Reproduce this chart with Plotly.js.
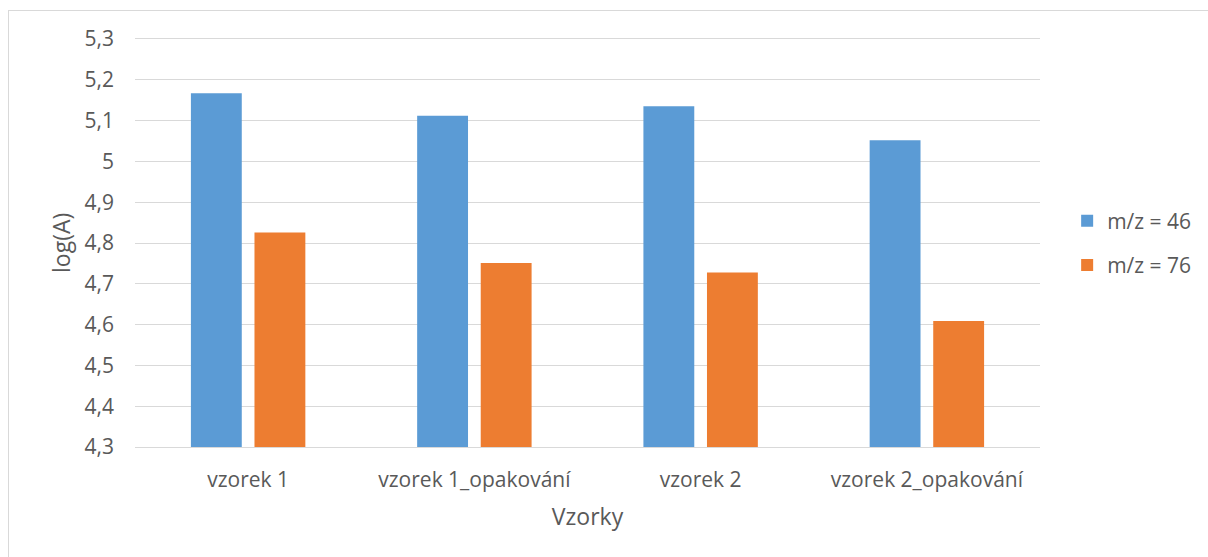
<!DOCTYPE html>
<html>
<head>
<meta charset="utf-8">
<script src="https://cdn.plot.ly/plotly-3.0.1.min.js"></script>
<style>
  html, body { margin: 0; padding: 0; background: #ffffff; }
  #wrap { position: relative; width: 1208px; height: 557px; overflow: hidden; }
  #chart { position: absolute; left: 0; top: 0; width: 1208px; height: 557px; }
  #frame { position: absolute; left: 8px; top: 10px; width: 1300px; height: 700px;
           border-left: 1px solid #d9d9d9; border-top: 1px solid #d9d9d9; pointer-events: none; }
</style>
</head>
<body>
<div id="wrap">
  <div id="chart"></div>
  <div id="frame"></div>
</div>
<script>
// Samples and measured log(A) values for the two ions
const samples = ["vzorek 1", "vzorek 1_opakování", "vzorek 2", "vzorek 2_opakování"];
const mz46 = [5.167, 5.112, 5.135, 5.052];
const mz76 = [4.826, 4.751, 4.728, 4.609];
const seriesNames = ["m/z = 46", "m/z = 76"];
const yTicks = [4.3, 4.4, 4.5, 4.6, 4.7, 4.8, 4.9, 5.0, 5.1, 5.2, 5.3];
const yTickText = ["4,3", "4,4", "4,5", "4,6", "4,7", "4,8", "4,9", "5", "5,1", "5,2", "5,3"];
const xTitle = "Vzorky";
const yTitle = "log(A)";

const FONT = "Open Sans, Noto Sans, sans-serif";
const GREY = "#595959";
const GRID = "#d9d9d9";

const traces = [
  { type: "bar", name: seriesNames[0], x: samples, y: mz46,
    marker: { color: "#5B9BD5" }, legendgroup: "a", hoverinfo: "skip" },
  { type: "bar", name: seriesNames[1], x: samples, y: mz76,
    marker: { color: "#ED7D31" }, legendgroup: "b", hoverinfo: "skip" }
];

const layout = {
  width: 1208, height: 557,
  margin: { l: 135, r: 162, t: 39, b: 110, pad: 0 },
  paper_bgcolor: "#ffffff", plot_bgcolor: "#ffffff",
  font: { family: FONT, size: 21, color: GREY },
  barmode: "group", bargap: 0.438, bargroupgap: 0.2,
  showlegend: true,
  legend: { x: 1.03, xanchor: "left", y: 0.5, yanchor: "middle",
            font: { family: FONT, size: 21, color: GREY },
            tracegroupgap: 14, bgcolor: "rgba(0,0,0,0)" },
  xaxis: {
    type: "category", showgrid: false, zeroline: false,
    showline: true, mirror: true, linecolor: GRID, linewidth: 1,
    ticks: "", ticklabelstandoff: 14,
    tickfont: { family: FONT, size: 21, color: GREY },
    title: { text: xTitle, font: { family: FONT, size: 23, color: GREY }, standoff: 16 }
  },
  yaxis: {
    range: [4.3, 5.3], tickvals: yTicks, ticktext: yTickText,
    showgrid: true, gridcolor: GRID, gridwidth: 1, zeroline: false,
    showline: false, ticks: "", ticklabelstandoff: 20,
    tickfont: { family: FONT, size: 21, color: GREY }
  },
  annotations: [
    { text: yTitle, xref: "paper", yref: "paper", x: 0, y: 0.5,
      xanchor: "center", yanchor: "middle", xshift: -74, textangle: -90,
      showarrow: false, font: { family: FONT, size: 23, color: GREY } }
  ]
};

Plotly.newPlot("chart", traces, layout, { staticPlot: true, displayModeBar: false });
</script>
</body>
</html>
